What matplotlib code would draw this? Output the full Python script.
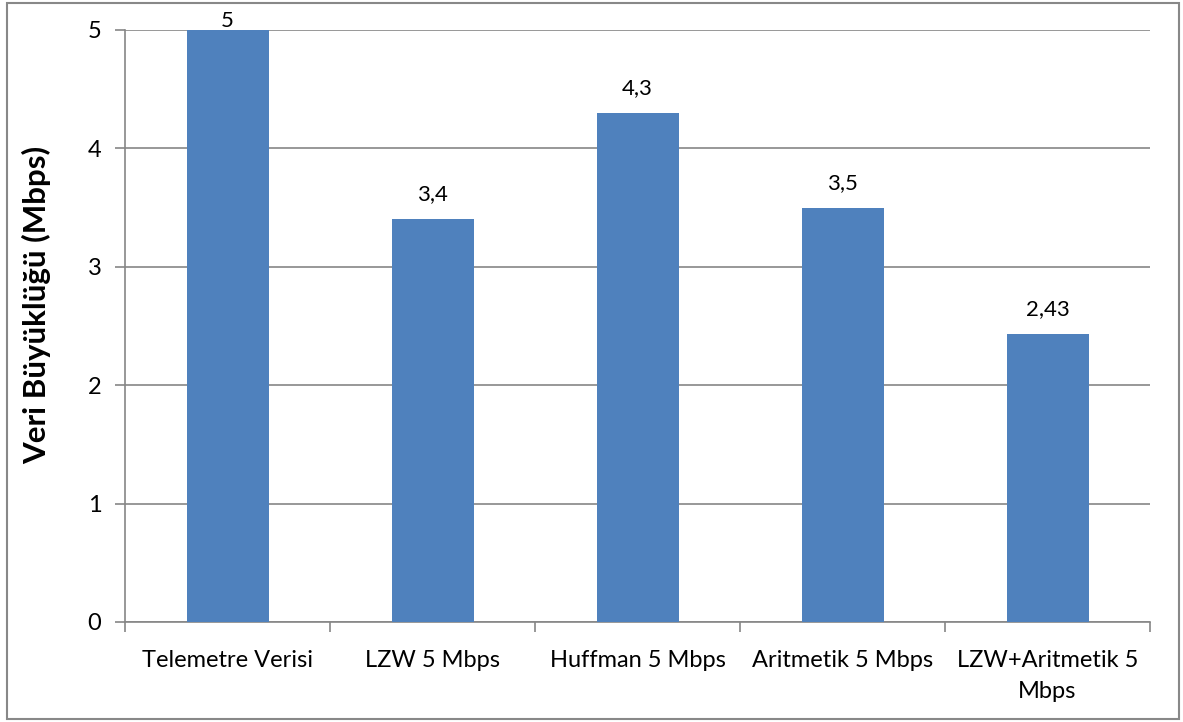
import matplotlib.pyplot as plt
from matplotlib.patches import Rectangle

categories = ["Telemetre Verisi", "LZW 5 Mbps", "Huffman 5 Mbps",
              "Aritmetik 5 Mbps", "LZW+Aritmetik 5\nMbps"]
values = [5, 3.4, 4.3, 3.5, 2.43]
labels = ["5", "3,4", "4,3", "3,5", "2,43"]

plt.rcParams['font.family'] = ['Lato', 'DejaVu Sans']

fig = plt.figure(figsize=(11.83, 7.22), dpi=100)
ax = fig.add_axes([125 / 1183, 100 / 722, 1025 / 1183, 592 / 722])

x = range(len(categories))
ax.bar(x, values, width=0.4, color="#4F81BD", zorder=3)

# value labels above each bar; the top one sits lower to stay inside the frame
for i, (v, lab) in enumerate(zip(values, labels)):
    off = 9 if v >= 5 else 25
    ax.annotate(lab, (i, v), xytext=(0, off), textcoords="offset pixels",
                ha="center", va="center", fontsize=16, zorder=4)

ax.set_xlim(-0.5, len(categories) - 0.5)
ax.set_ylim(0, 5)
ax.set_yticks([0, 1, 2, 3, 4, 5])
ax.yaxis.grid(True, color="#868686", linewidth=1.2, zorder=0)
ax.set_xticks([i + 0.5 for i in range(-1, len(categories))], minor=False)
ax.set_xticklabels([])
ax.set_xticks(list(x), minor=True)
ax.set_xticklabels(categories, minor=True, fontsize=17, linespacing=1.6)
ax.tick_params(axis="x", which="minor", length=0, pad=20)
ax.tick_params(axis="x", which="major", length=7, color="#868686", width=1.2)
ax.tick_params(axis="y", length=7, color="#868686", width=1.2, labelsize=17, pad=10)

for s in ["top", "right"]:
    ax.spines[s].set_visible(False)
for s in ["left", "bottom"]:
    ax.spines[s].set_color("#868686")
    ax.spines[s].set_linewidth(1.2)

ax.set_ylabel("Veri Büyüklüğü (Mbps)", fontsize=22.5, fontweight="bold")
ax.yaxis.set_label_coords(-0.072, 0.535)

# outer chart border
fig.patches.append(Rectangle((7 / 1183, 3 / 722), 1172 / 1183, 716 / 722,
                             transform=fig.transFigure, fill=False,
                             edgecolor="#888888", linewidth=1.5))

fig.savefig("out.png", dpi=100)
